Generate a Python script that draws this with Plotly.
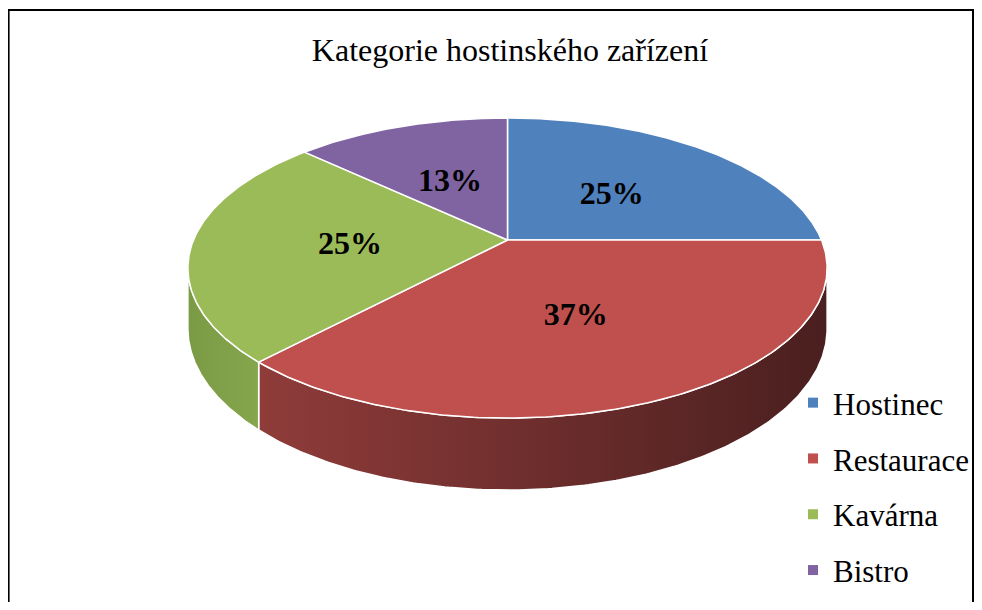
import numpy as np
import plotly.graph_objects as go

# ---- data ----
categories = ["Hostinec", "Restaurace", "Kavárna", "Bistro"]
values = [25, 37, 25, 13]
colors = ["#4f81bd", "#c0504d", "#9bbb59", "#8064a2"]
side_colors = [("#3d6496", "#2a4568"), ("#8f3c3a", "#4a1f1f"),
               ("#7a9a45", "#86a64d"), ("#634d80", "#4a3a60")]
title_text = "Kategorie hostinského zařízení"

# ---- figure size; the html body adds an 8 px margin around the figure ----
OFF = 8
W, H = 982 - 2 * OFF, 610 - 2 * OFF

# ---- geometry of the tilted 3D pie (screen pixel space) ----
CX, CY = 507.5, 240.0
A, B, K, CZ = 314.0, 144.8, 0.1867, 58.6
LABEL_DY = 4


def proj(theta, depth=0.0, r=1.0):
    X = r * np.sin(theta)
    Y = r * np.cos(theta)
    den = 1 + K * Y
    return CX + A * X / den, CY + (-B * Y + depth * CZ) / den


total = float(sum(values))
fracs = np.array(values) / total
starts = np.concatenate([[0], np.cumsum(fracs)[:-1]]) * 2 * np.pi
ends = np.cumsum(fracs) * 2 * np.pi

th_l = np.arccos(-K)            # visible side range
th_r = 2 * np.pi - th_l

fig = go.Figure()

# side walls
for i in range(len(values)):
    s, e = max(starts[i], th_l), min(ends[i], th_r)
    if e <= s:
        continue
    t = np.linspace(s, e, 200)
    xt, yt = proj(t)
    xb, yb = proj(t[::-1], depth=1.0)
    fig.add_trace(go.Scatter(
        x=np.concatenate([xt, xb, xt[:1]]), y=np.concatenate([yt, yb, yt[:1]]),
        mode="lines", fill="toself",
        fillgradient=dict(type="horizontal",
                          colorscale=[[0, side_colors[i][0]], [1, side_colors[i][1]]]),
        line=dict(color="white", width=1.5),
        hoverinfo="skip", showlegend=False))

# top faces
for i in range(len(values)):
    t = np.linspace(starts[i], ends[i], 200)
    xt, yt = proj(t)
    fig.add_trace(go.Scatter(
        x=np.concatenate([[CX], xt, [CX]]), y=np.concatenate([[CY], yt, [CY]]),
        mode="lines", fill="toself", fillcolor=colors[i],
        line=dict(color="white", width=1.5),
        hoverinfo="skip", showlegend=False))

# percentage labels
mids = (starts + ends) / 2
lx, ly = proj(mids, r=0.5)
fig.add_trace(go.Scatter(
    x=lx, y=ly + LABEL_DY, mode="text",
    text=[f"{round(v / total * 100)}%" for v in values],
    textfont=dict(family="Liberation Serif", size=32, color="black", weight="bold"),
    hoverinfo="skip", showlegend=False))

# legend entries
for i, c in enumerate(categories):
    fig.add_trace(go.Scatter(
        x=[None], y=[None], mode="markers", name=c, legendgroup=c,
        marker=dict(symbol="square", size=10, color=colors[i])))


def px(v):
    return (v - OFF) / W


def py(v):
    return 1 - (v - OFF) / H


fig.update_layout(
    width=W, height=H,
    margin=dict(l=0, r=0, t=0, b=0),
    paper_bgcolor="white", plot_bgcolor="white",
    xaxis=dict(range=[OFF, W + OFF], visible=False, fixedrange=True),
    yaxis=dict(range=[H + OFF, OFF], visible=False, fixedrange=True),
    title=dict(text=title_text, x=px(510), xanchor="center",
               y=py(50), yanchor="middle",
               font=dict(family="Liberation Serif", size=32, color="black")),
    legend=dict(x=px(793), xanchor="left", y=py(376), yanchor="top",
                font=dict(family="Liberation Serif", size=31, color="black"),
                tracegroupgap=12.5, bgcolor="rgba(0,0,0,0)"),
    shapes=[dict(type="rect", xref="paper", yref="paper",
                 x0=0.6 / W, x1=1 - 1.0 / W, y0=-0.1, y1=py(10),
                 line=dict(color="black", width=2))],
    showlegend=True,
)

fig.write_html("out.html")
